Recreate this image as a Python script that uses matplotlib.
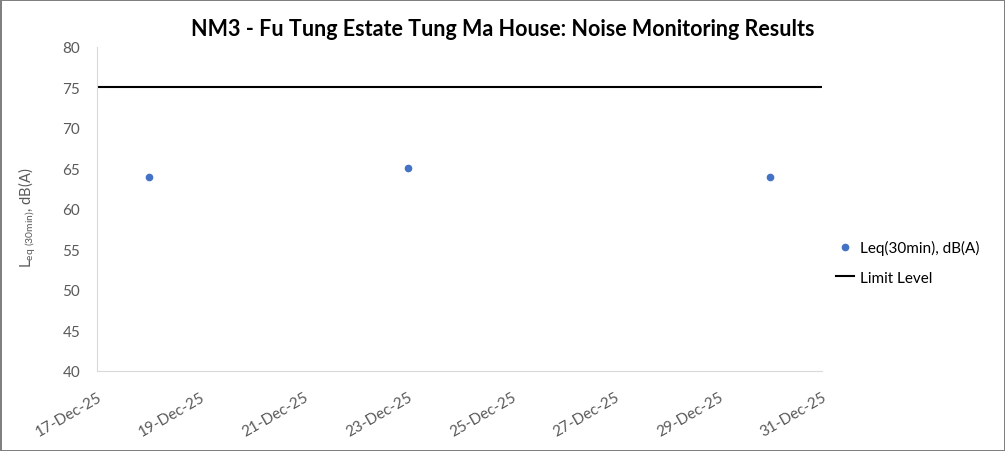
import matplotlib.pyplot as plt
import matplotlib.dates as mdates
import numpy as np
from datetime import datetime

plt.rcParams['font.family'] = ['Lato', 'DejaVu Sans']

dates = ["2025-12-18", "2025-12-23", "2025-12-30"]
leq = [64, 65, 64]
limit_range = ["2025-12-17", "2025-12-31"]
limit_level = [75, 75]


def main():
    x = [datetime.strptime(d, "%Y-%m-%d") for d in dates]
    xl = [datetime.strptime(d, "%Y-%m-%d") for d in limit_range]

    fig = plt.figure(figsize=(10.05, 4.52), dpi=100)
    fig.patch.set_edgecolor("#808080")
    fig.patch.set_linewidth(2)
    ax = fig.add_axes([0.0965, 0.177, 0.7215, 0.717])

    ax.plot(x, leq, "o", color="#4472C4", markersize=4.5, label="Leq(30min), dB(A)")
    ax.plot(xl, limit_level, "-", color="black", linewidth=1.5, label="Limit Level")

    ax.set_xlim(xl[0], xl[1])
    ax.set_ylim(40, 80)
    ax.set_yticks(np.arange(40, 81, 5))
    ax.xaxis.set_major_locator(mdates.DayLocator(interval=2))
    ax.xaxis.set_major_formatter(mdates.DateFormatter("%d-%b-%y"))
    for lab in ax.get_xticklabels():
        lab.set_rotation(30)
        lab.set_ha("right")
        lab.set_rotation_mode("anchor")

    for s in ["top", "right"]:
        ax.spines[s].set_visible(False)
    for s in ["left", "bottom"]:
        ax.spines[s].set_color("#D9D9D9")
    ax.tick_params(length=0, colors="#595959", labelsize=11)
    ax.tick_params(axis="y", pad=12)
    ax.tick_params(axis="x", pad=13)

    ax.set_ylabel(r"L$_{\mathregular{eq\ (30min)}}$, dB(A)", color="#595959", fontsize=10.5)
    ax.yaxis.set_label_coords(-0.082, 0.475)
    fig.text(0.5, 0.935, "NM3 - Fu Tung Estate Tung Ma House: Noise Monitoring Results",
             fontsize=15.5, fontweight="bold", ha="center", va="center")

    ax.legend(loc="center left", bbox_to_anchor=(1.0, 0.335), frameon=False,
              fontsize=11, handlelength=1.2, handletextpad=0.4, labelspacing=1.0)

    fig.savefig("out.png", dpi=100)


if __name__ == "__main__":
    main()
